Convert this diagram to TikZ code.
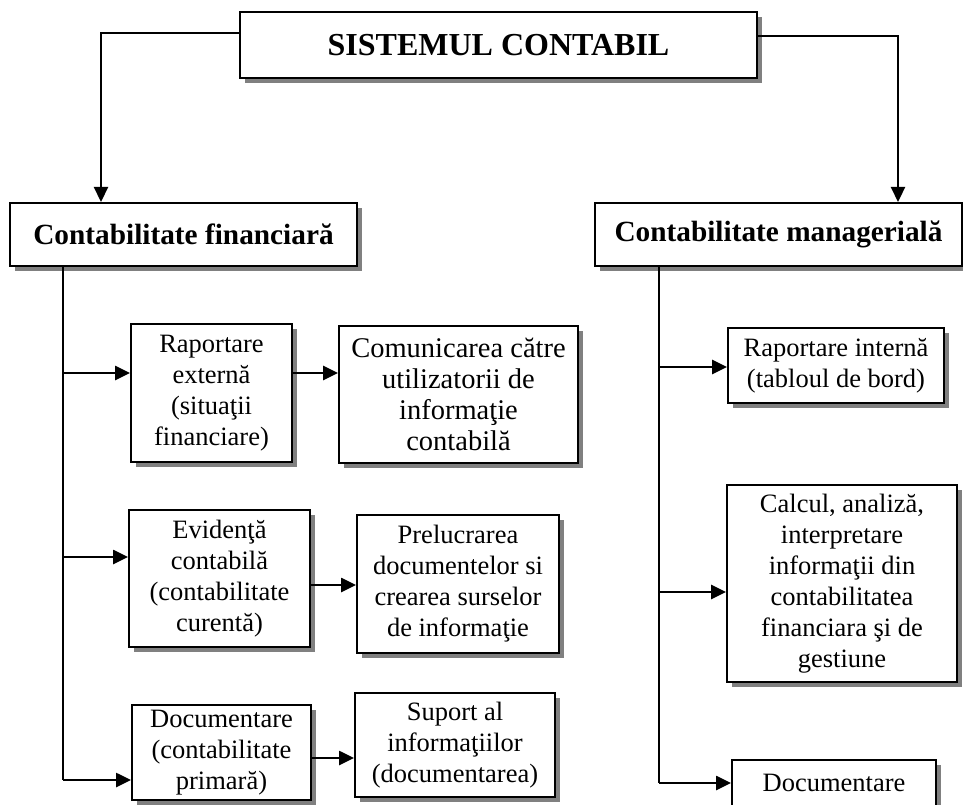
\documentclass[tikz,border=0pt]{standalone}
\usepackage{fontspec}
\setmainfont{Liberation Serif}
\usetikzlibrary{arrows.meta,shadows}

\tikzset{
  box/.style={draw, line width=2pt, fill=white, inner sep=0pt, align=center,
    font=\fontsize{26.5}{31}\selectfont,
    drop shadow={shadow xshift=5pt, shadow yshift=-5pt, fill=black!50, opacity=1}},
  headbox/.style={box, font=\bfseries\fontsize{29.3}{34}\selectfont},
  link/.style={line width=2.2pt},
  arrowlink/.style={link, -{Triangle[length=15pt,width=14pt]}},
  branch/.style={arrowlink, line width=2.6pt}
}

\begin{document}
\begin{tikzpicture}[x=1pt, y=-1pt]
\useasboundingbox (0,0) rectangle (963,805);

% top level
\node[headbox, font=\bfseries\fontsize{32}{36}\selectfont, minimum width=517pt, minimum height=66pt] (top) at (498.5,45) {SISTEMUL CONTABIL};

% the two branches
\node[headbox, minimum width=347pt, minimum height=63pt] (fin) at (183.5,234.5) {Contabilitate financiară};
\node[headbox, minimum width=367pt, minimum height=63pt] (mgmt) at (778.5,234.5) {Contabilitate managerială};

% financial accounting column
\node[box, minimum width=161pt, minimum height=138pt] (rext) at (211.5,393) {Raportare\\externă\\(situaţii\\financiare)};
\node[box, font=\fontsize{28.5}{31}\selectfont, minimum width=239pt, minimum height=137pt] (com) at (458.5,394.5) {Comunicarea către\\utilizatorii de\\informaţie\\contabilă};
\node[box, minimum width=181pt, minimum height=137pt] (evid) at (219.5,578.5) {Evidenţă\\contabilă\\(contabilitate\\curentă)};
\node[box, minimum width=202pt, minimum height=138pt] (prel) at (458,584) {Prelucrarea\\documentelor si\\crearea surselor\\de informaţie};
\node[box, minimum width=179pt, minimum height=95pt] (docl) at (221.5,752.5) {Documentare\\(contabilitate\\primară)};
\node[box, minimum width=200pt, minimum height=104pt] (sup) at (455,745) {Suport al\\informaţiilor\\(documentarea)};

% managerial accounting column
\node[box, minimum width=216pt, minimum height=75pt] (rint) at (836,365.5) {Raportare internă\\(tabloul de bord)};
\node[box, minimum width=230pt, minimum height=197pt] (calc) at (842,583.5) {Calcul, analiză,\\interpretare\\informaţii din\\contabilitatea\\financiara şi de\\gestiune};
\node[box, minimum width=204pt, minimum height=46pt] (docr) at (834,783) {Documentare};

% links from the top box
\draw[arrowlink] ([yshift=12pt]top.west) -| ([xshift=-82.5pt]fin.north);
\draw[arrowlink] ([yshift=9pt]top.east) -| ([xshift=119.5pt]mgmt.north);

% left trunk and its branches
\coordinate (ls) at ([xshift=-120.5pt]fin.south);
\coordinate (l1) at (63,373);
\coordinate (l2) at (63,557);
\coordinate (l3) at (63,780);
\draw[link] (ls) -- (l3);
\draw[branch] (l1) -- (l1 -| rext.west);
\draw[branch] (l2) -- (l2 -| evid.west);
\draw[branch] (l3) -- (l3 -| docl.west);

% second-level links on the left
\coordinate (s1) at (0,373);
\coordinate (s2) at (0,585);
\coordinate (s3) at (0,758);
\draw[branch] (s1 -| rext.east) -- (s1 -| com.west);
\draw[branch] (s2 -| evid.east) -- (s2 -| prel.west);
\draw[branch] (s3 -| docl.east) -- (s3 -| sup.west);

% right trunk and its branches
\coordinate (rs) at ([xshift=-119.5pt]mgmt.south);
\coordinate (r1) at (659,367);
\coordinate (r2) at (659,592);
\coordinate (r3) at (659,783);
\draw[link] (rs) -- (r3);
\draw[branch] (r1) -- (r1 -| rint.west);
\draw[branch] (r2) -- (r2 -| calc.west);
\draw[branch] (r3) -- (r3 -| docr.west);
\end{tikzpicture}
\end{document}
